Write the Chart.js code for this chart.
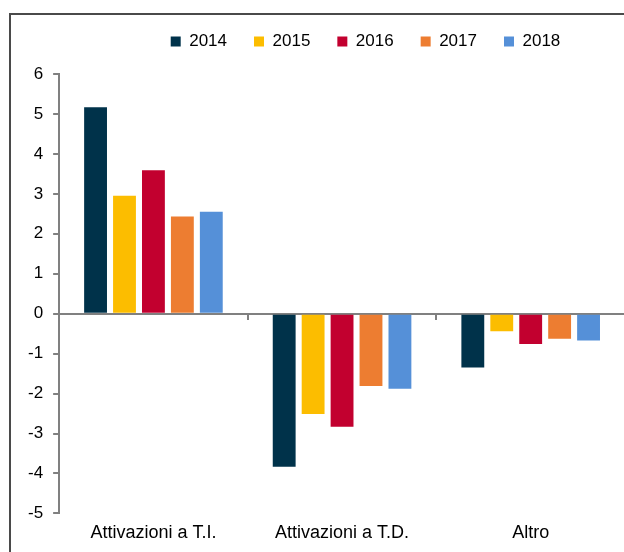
<!DOCTYPE html>
<html>
<head>
<meta charset="utf-8">
<script src="https://cdn.jsdelivr.net/npm/chart.js@4"></script>
<style>
  html, body { margin: 0; padding: 0; background: #fff; overflow: hidden; width: 624px; height: 552px; }
  #cornice { position: absolute; left: 9px; top: 13px; width: 700px; height: 600px; border: 2px solid #4a4a4a; box-sizing: border-box; }
  #contenitore { position: absolute; left: 0; top: 0; width: 640px; height: 580px; }
</style>
</head>
<body>
<div id="cornice"></div>
<div id="contenitore"><canvas id="grafico"></canvas></div>
<script>
// Dati
const categorie = ['Attivazioni a T.I.', 'Attivazioni a T.D.', 'Altro'];
const anni = ['2014', '2015', '2016', '2017', '2018'];
const valori2014 = [5.17, -3.83, -1.35];
const valori2015 = [2.95, -2.51, -0.44];
const valori2016 = [3.59, -2.83, -0.76];
const valori2017 = [2.43, -1.81, -0.63];
const valori2018 = [2.55, -1.88, -0.67];
const colori = ['#00324a', '#fcbd00', '#c2002f', '#ed7d31', '#5590d8'];

Chart.defaults.font.family = "'Liberation Sans', Arial, sans-serif";
Chart.defaults.color = '#000';

const serie = [valori2014, valori2015, valori2016, valori2017, valori2018];

// Sposta la legenda per allinearla al riferimento
const spostaLegenda = {
    id: 'spostaLegenda',
    afterLayout(chart) {
        const lg = chart.legend;
        lg.left += 44;
        lg.right += 44;
        lg.top -= 14;
        lg.bottom -= 14;
    }
};

const ctx = document.getElementById('grafico').getContext('2d');
const grafico = new Chart(ctx, {
    type: 'bar',
    data: {
        labels: categorie,
        datasets: serie.map((valori, i) => ({
            label: anni[i],
            data: valori,
            backgroundColor: colori[i],
            xAxisID: 'x',
            categoryPercentage: 0.767,
            barPercentage: 0.79
        }))
    },
    options: {
        responsive: true,
        maintainAspectRatio: false,
        animation: false,
        layout: {
            padding: { left: 18, right: 15, top: 20, bottom: 27 }
        },
        plugins: {
            legend: {
                display: true,
                position: 'top',
                labels: {
                    boxWidth: 10,
                    boxHeight: 10,
                    padding: 27,
                    font: { size: 17 }
                }
            },
            tooltip: { enabled: false }
        },
        scales: {
            x: {
                position: { y: 0 },
                offset: true,
                grid: { offset: true, drawOnChartArea: false, tickLength: 5, color: '#808080', lineWidth: 2 },
                border: { color: '#808080', width: 2 },
                ticks: { display: false }
            },
            x2: {
                type: 'category',
                labels: categorie,
                position: 'bottom',
                offset: true,
                grid: { display: false, drawTicks: false },
                border: { display: false },
                ticks: { font: { size: 18 }, padding: 9, maxRotation: 0 }
            },
            y: {
                min: -5,
                max: 6,
                ticks: { stepSize: 1, font: { size: 17 }, padding: 10 },
                grid: { drawOnChartArea: false, tickLength: 6, color: '#808080', lineWidth: 2 },
                border: { color: '#808080', width: 2 }
            }
        }
    },
    plugins: [spostaLegenda]
});
</script>
</body>
</html>
